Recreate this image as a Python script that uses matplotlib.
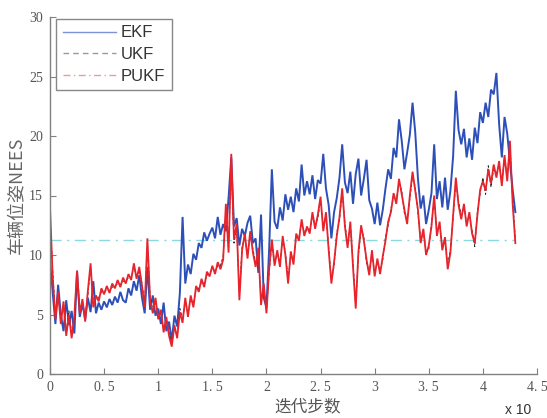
import matplotlib
matplotlib.use("Agg")
import matplotlib.pyplot as plt
from matplotlib.lines import Line2D

# iteration step of the sampled points (one value every 250 iterations, 0 .. 43000)
step = 250

ekf = [9.5, 6.8, 4.2, 7.5, 5.0, 3.6, 6.2, 4.1, 5.3, 3.4, 8.6, 4.8, 5.9, 4.6, 6.4, 5.2,
       7.8, 5.1, 6.0, 5.4, 6.1, 5.6, 6.3, 5.8, 6.5, 6.0, 6.9, 6.2, 6.0, 7.2, 6.6, 7.8,
       7.0, 8.3, 6.4, 5.1, 9.0, 5.4, 6.6, 4.9, 5.5, 4.2, 6.0, 3.6, 4.4, 2.8, 4.9, 4.0,
       6.8, 13.2, 7.6, 9.2, 8.4, 10.1, 9.6, 11.0, 10.6, 11.9, 11.2, 11.8, 12.3, 11.4, 13.2, 11.7,
       12.6, 12.0, 14.8, 18.2, 12.4, 13.1, 10.8, 12.2, 11.6, 12.7, 13.3, 11.0, 11.4, 8.5, 13.4, 6.4,
       5.6, 10.5, 17.2, 12.8, 12.2, 14.0, 12.9, 15.1, 13.8, 14.9, 13.6, 15.6, 14.5, 17.6, 15.0, 16.2,
       15.1, 16.7, 14.7, 16.3, 16.0, 18.5, 15.6, 14.2, 11.4, 13.6, 14.8, 16.5, 19.3, 16.1, 15.2, 17.0,
       14.3, 16.8, 18.1, 15.0, 16.4, 18.0, 14.6, 13.9, 12.6, 14.4, 12.5, 13.8, 15.6, 17.2, 16.4, 19.0,
       18.2, 21.4, 19.6, 17.2, 18.6, 20.1, 22.8, 20.3, 16.4, 13.9, 15.0, 12.6, 13.8, 15.2, 19.3, 14.7,
       16.2, 14.0, 16.5, 13.8, 15.4, 18.3, 23.8, 20.5, 19.3, 20.6, 18.2, 19.8, 18.0, 20.7, 19.4, 22.0,
       21.1, 22.8, 21.6, 23.9, 23.5, 25.3, 21.0, 18.2, 21.6, 20.2, 17.8, 15.5, 13.6]

ukf = [13.2, 8.6, 4.9, 6.6, 4.5, 5.8, 3.5, 5.3, 3.3, 4.6, 8.3, 5.4, 6.0, 4.7, 6.7, 9.0,
       5.9, 6.3, 6.4, 6.9, 6.9, 7.1, 7.0, 7.3, 7.4, 7.6, 7.5, 7.8, 7.8, 8.1, 8.1, 9.0,
       8.2, 8.7, 7.6, 5.9, 11.0, 6.5, 5.4, 6.1, 4.9, 5.1, 3.8, 4.5, 3.5, 2.6, 3.8, 3.3,
       5.5, 4.6, 6.1, 5.1, 6.3, 5.9, 7.1, 7.2, 7.7, 7.6, 8.3, 8.5, 8.8, 8.7, 9.1, 9.1,
       9.9, 13.8, 10.5, 18.0, 11.0, 12.3, 6.6, 10.7, 11.5, 10.0, 11.7, 10.5, 9.3, 10.3, 6.1, 7.3,
       5.4, 8.5, 11.0, 9.4, 10.1, 9.3, 11.3, 10.3, 7.9, 10.0, 9.5, 11.5, 11.5, 12.7, 11.9, 12.1,
       12.1, 13.3, 12.5, 13.1, 14.6, 12.3, 13.3, 10.7, 7.9, 9.1, 11.9, 12.9, 15.3, 12.7, 10.9, 12.5,
       9.3, 5.8, 10.0, 12.2, 11.5, 9.3, 8.6, 10.1, 8.5, 9.4, 8.7, 9.6, 11.5, 12.5, 13.9, 14.9,
       14.6, 16.1, 15.4, 13.5, 12.9, 14.7, 16.7, 15.7, 13.5, 11.3, 11.9, 10.3, 10.5, 12.7, 14.7, 11.9,
       12.5, 10.7, 11.2, 9.1, 10.5, 13.1, 16.2, 14.5, 13.3, 14.0, 12.7, 13.3, 12.1, 10.7, 13.7, 15.2,
       16.5, 15.1, 17.5, 15.7, 17.3, 16.8, 17.6, 16.1, 18.1, 16.5, 19.3, 14.6, 11.3]

pukf = [14.0, 8.2, 4.6, 6.9, 4.2, 6.1, 3.2, 5.0, 3.0, 4.9, 8.7, 5.1, 6.3, 4.4, 7.0, 9.3,
        5.6, 6.6, 6.1, 7.2, 6.7, 7.4, 6.8, 7.6, 7.2, 7.9, 7.3, 8.1, 7.6, 8.4, 7.9, 9.3,
        8.0, 9.0, 7.4, 5.6, 11.4, 6.2, 5.1, 6.4, 4.6, 5.4, 3.5, 4.8, 3.2, 2.3, 4.1, 3.0,
        5.2, 4.3, 6.4, 4.8, 6.6, 5.6, 7.4, 6.9, 8.0, 7.3, 8.6, 8.2, 9.1, 8.4, 9.4, 8.8,
        9.6, 14.3, 10.2, 18.5, 11.3, 12.6, 6.2, 10.4, 11.8, 9.7, 12.0, 10.2, 9.0, 10.6, 5.8, 7.6,
        5.1, 8.8, 11.3, 9.1, 10.4, 9.0, 11.6, 10.0, 7.6, 10.3, 9.2, 11.8, 11.2, 13.0, 11.6, 12.4,
        11.8, 13.6, 12.2, 13.4, 14.9, 12.0, 13.6, 10.4, 7.6, 9.4, 11.6, 13.2, 15.6, 12.4, 10.6, 12.8,
        9.0, 5.5, 10.3, 12.5, 11.2, 9.6, 8.3, 10.4, 8.2, 9.7, 8.4, 9.9, 11.2, 12.8, 13.6, 15.2,
        14.3, 16.4, 15.1, 13.8, 12.6, 15.0, 17.0, 15.4, 13.8, 11.0, 12.2, 10.0, 10.8, 12.4, 15.0, 11.6,
        12.8, 10.4, 11.5, 8.8, 10.2, 13.4, 16.5, 14.2, 13.0, 14.3, 12.4, 13.6, 11.8, 11.0, 13.4, 15.5,
        16.2, 15.4, 17.2, 16.0, 17.6, 16.5, 17.9, 15.8, 18.4, 16.2, 19.6, 14.3, 11.0]

bound = 11.3          # cyan dash-dot reference level
x_ticks = [0, 0.5, 1, 1.5, 2, 2.5, 3, 3.5, 4, 4.5]
y_ticks = [0, 5, 10, 15, 20, 25, 30]

steps = [i * step for i in range(len(ekf))]

fig = plt.figure(figsize=(5.47, 4.18), dpi=100)
ax = fig.add_axes([50 / 547, 44 / 418, 487 / 547, 357 / 418])

ax.plot([0, steps[-1]], [bound, bound], color="#8ad8e0", lw=1.0, ls=(0, (8, 4, 1.5, 4)))
ax.plot(steps, ekf, color="#2d4fb8", lw=1.4, solid_joinstyle="miter")
ax.plot(steps, ukf, color="#222222", lw=0.7, ls=(0, (3, 2)))
ax.plot(steps, pukf, color="#e8232b", lw=1.3, solid_joinstyle="miter")

ax.set_xlim(0, 45000)
ax.set_ylim(0, 30)
ax.set_xticks([t * 10000 for t in x_ticks])
ax.set_xticklabels([("%g" % t).replace(".", ". ") for t in x_ticks])
ax.set_yticks(y_ticks)
for s in ["top", "right"]:
    ax.spines[s].set_visible(False)
for s in ["left", "bottom"]:
    ax.spines[s].set_color("#808080")
    ax.spines[s].set_linewidth(1.0)
ax.tick_params(direction="in", length=4, color="#808080", labelcolor="#555555",
               labelsize=10, pad=5)
for lab in ax.get_xticklabels() + ax.get_yticklabels():
    lab.set_family("Liberation Serif")

ax.set_ylabel("车辆位姿NEES", family=["Noto Sans CJK SC", "DejaVu Sans"],
              fontsize=13, color="#666666", labelpad=2)
ax.set_xlabel("迭代步数", family=["Noto Sans CJK SC", "DejaVu Sans"],
              fontsize=12, color="#555555", labelpad=1)
ax.xaxis.set_label_coords(0.53, -0.068)
fig.text(505 / 547, 4 / 418, "x 10", fontsize=10, color="#333333", family="Liberation Sans")

handles = [Line2D([], [], color="#7d93d6", lw=1.0),
           Line2D([], [], color="#999999", lw=1.0, ls=(0, (4, 3))),
           Line2D([], [], color="#e89aa6", lw=1.0, ls=(0, (5, 2.5, 1, 2.5)))]
leg = ax.legend(handles, ["EKF", "UKF", "PUKF"], loc="upper left",
                bbox_to_anchor=(0.012, 0.995), borderaxespad=0, fancybox=False,
                framealpha=1, edgecolor="#888888", handlelength=3.2,
                prop={"family": "Liberation Sans", "size": 12},
                labelspacing=0.4, borderpad=0.4, handletextpad=0.3)
leg.get_frame().set_linewidth(1.0)
for t in leg.get_texts():
    t.set_color("#333333")

fig.savefig("out.png", dpi=100, facecolor="white")
